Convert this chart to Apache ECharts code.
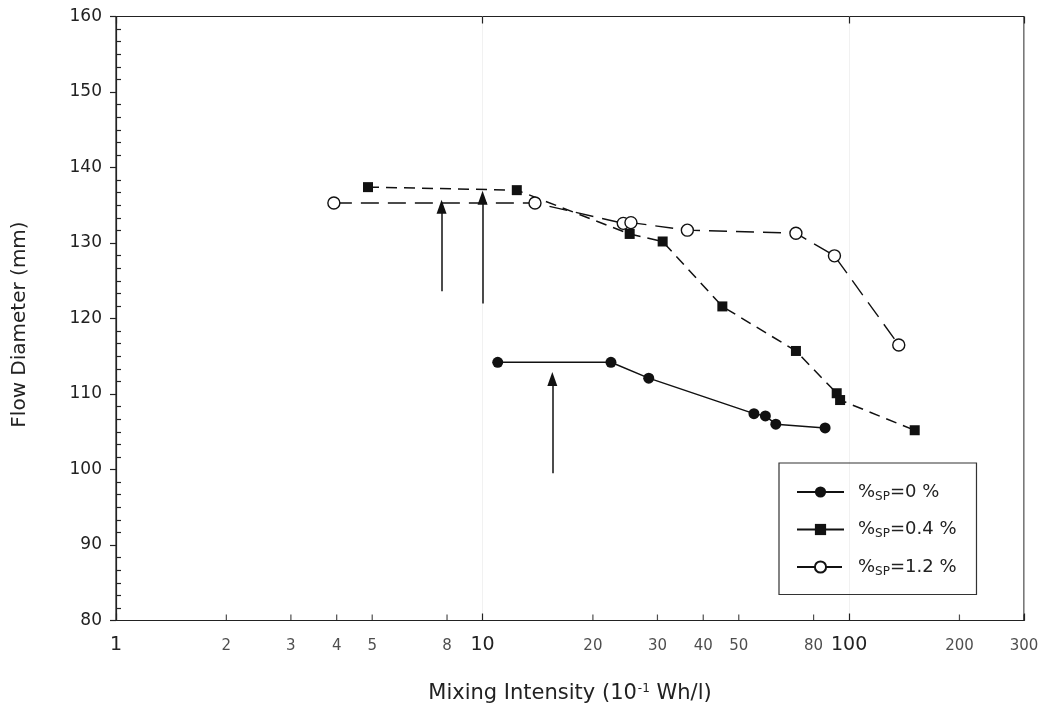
<!DOCTYPE html>
<html>
<head>
<meta charset="utf-8">
<script src="https://cdn.jsdelivr.net/npm/echarts@6/dist/echarts.min.js"></script>
<style>
  html, body { margin: 0; padding: 0; background: #fff; }
  #chart { width: 1048px; height: 710px; }
</style>
</head>
<body>
<div id="chart"></div>
<script>
// values
const sp0X = [11.0, 22.4, 28.4, 55.0, 59.1, 63.1, 86.0];
const sp0Y = [114.2, 114.2, 112.1, 107.4, 107.1, 106.0, 105.5];
const sp04X = [4.87, 12.4, 25.2, 31.0, 45.1, 71.6, 92.5, 94.5, 151];
const sp04Y = [137.4, 137.0, 131.2, 130.2, 121.6, 115.7, 110.1, 109.2, 105.2];
const sp12X = [3.93, 13.9, 24.2, 25.4, 36.2, 71.6, 91.2, 136.6];
const sp12Y = [135.3, 135.3, 132.6, 132.7, 131.7, 131.3, 128.3, 116.5];
// arrows: x position, tail, head
const arrowX = [7.73, 10.0, 15.5];
const arrowFrom = [123.6, 122.0, 99.5];
const arrowTo = [134.8, 136.0, 112.0];
// extra tick labels on the log axis
const xTickVals = [2, 3, 4, 5, 8, 20, 30, 40, 50, 80, 200, 300];
const yTicks = [80, 90, 100, 110, 120, 130, 140, 150, 160];

const ink = '#111';
const txt = '#222';
const font = "'DejaVu Sans', 'Liberation Sans', sans-serif";

const zip = (xs, ys) => xs.map((x, i) => [x, ys[i]]);

const chart = echarts.init(document.getElementById('chart'));

const option = {
  backgroundColor: '#fff',
  animation: false,
  grid: {
    left: 116, right: 24, top: 16.5, bottom: 89.5,
    show: true, borderColor: '#222', borderWidth: 1.2, backgroundColor: 'transparent'
  },
  legend: {
    orient: 'vertical',
    left: 779, top: 463,
    padding: [20, 20, 17, 17],
    borderColor: '#333', borderWidth: 1.2,
    itemWidth: 47, itemHeight: 14, itemGap: 18,
    data: [
      { name: '%SP=0 %' },
      { name: '%SP=0.4 %', lineStyle: { type: 'solid' } },
      { name: '%SP=1.2 %' }
    ],
    formatter: name => '{n|%}{s|SP}{n|' + name.slice(3) + '}',
    textStyle: {
      color: txt,
      padding: [0, 0, 0, 9],
      rich: {
        n: { fontSize: 18, fontFamily: font, color: txt, lineHeight: 25 },
        s: { fontSize: 12, fontFamily: font, color: txt, padding: [9, 0, 0, 0] }
      }
    }
  },
  xAxis: [{
    type: 'log', logBase: 10, min: 1, max: 300,
    name: '{n|Mixing Intensity (10}{p|-1}{n| Wh/l)}',
    nameLocation: 'middle', nameGap: 62,
    nameTextStyle: {
      rich: {
        n: { fontSize: 21, fontFamily: font, color: txt },
        p: { fontSize: 12, fontFamily: font, color: txt, padding: [0, 0, 11, 1] }
      }
    },
    axisLine: { lineStyle: { color: '#222', width: 1.2 } },
    axisTick: { inside: true, length: 7, lineStyle: { color: '#222', width: 1.2 } },
    minorTick: { show: false },
    splitLine: { show: true, lineStyle: { color: '#e4e4e4', type: 'dotted', width: 1 } },
    axisLabel: {
      margin: 15,
      fontSize: 19, fontFamily: font, color: txt,
      formatter: v => ((v === 1 || v === 10 || v === 100) ? String(v) : '')
    }
  }, {
    type: 'log', logBase: 10, min: 1, max: 300, position: 'top',
    axisLine: { show: false },
    axisTick: { inside: true, length: 7, lineStyle: { color: '#222', width: 1.2 } },
    axisLabel: { show: false },
    splitLine: { show: false }
  }],
  yAxis: [{
    type: 'value', min: 80, max: 160, interval: 10,
    name: 'Flow Diameter (mm)', nameLocation: 'middle', nameGap: 86,
    nameTextStyle: { fontSize: 20, fontFamily: font, color: txt, padding: [0, 12, 0, 0] },
    axisLine: { show: true, lineStyle: { color: '#222', width: 1.2 } },
    axisTick: { show: true, length: 6, lineStyle: { color: '#222', width: 1.2 } },
    splitLine: { show: false },
    axisLabel: {
      margin: 14, fontSize: 17, fontFamily: font, color: txt,
      formatter: v => (yTicks.includes(v) ? String(v) : '')
    }
  }, {
    type: 'value', min: 80, max: 160, interval: 10, position: 'left',
    axisLine: { show: false },
    axisTick: { show: false, inside: true },
    minorTick: { show: true, splitNumber: 6, length: 5, lineStyle: { color: '#222', width: 1.2 } },
    splitLine: { show: false },
    minorSplitLine: { show: false },
    axisLabel: { show: false }
  }],
  series: [
    {
      name: '%SP=0 %', type: 'line',
      data: zip(sp0X, sp0Y),
      symbol: 'circle', symbolSize: 11,
      itemStyle: { color: ink },
      lineStyle: { color: ink, width: 1.5 }
    },
    {
      name: '%SP=0.4 %', type: 'line',
      data: zip(sp04X, sp04Y),
      symbol: 'rect', symbolSize: 10,
      itemStyle: { color: ink },
      lineStyle: { color: ink, width: 1.5, type: [11, 7] }
    },
    {
      name: '%SP=1.2 %', type: 'line',
      data: zip(sp12X, sp12Y),
      symbol: 'circle', symbolSize: 12,
      itemStyle: { color: '#fff', borderColor: ink, borderWidth: 1.4 },
      lineStyle: { color: ink, width: 1.4, type: [18, 9] }
    },
    {
      name: 'ticks', type: 'scatter', clip: false, silent: true,
      data: xTickVals.map(v => [v, 80]),
      symbol: 'rect', symbolSize: [1.2, 6], symbolOffset: [0, -3],
      itemStyle: { color: '#222' },
      label: {
        show: true, position: 'bottom', distance: 18,
        fontSize: 15, fontFamily: font, color: txt,
        formatter: p => String(p.value[0])
      },
      z: 5
    },
    {
      name: 'arrows', type: 'scatter', data: [], silent: true,
      markLine: {
        silent: true,
        symbol: ['none', 'triangle'],
        symbolSize: [10, 14],
        label: { show: false },
        lineStyle: { color: ink, width: 1.5, type: 'solid' },
        data: arrowX.map((x, i) => [{ coord: [x, arrowFrom[i]] }, { coord: [x, arrowTo[i]] }])
      }
    }
  ]
};

chart.setOption(option);
window.addEventListener('resize', () => chart.resize(), false);
</script>
</body>
</html>
